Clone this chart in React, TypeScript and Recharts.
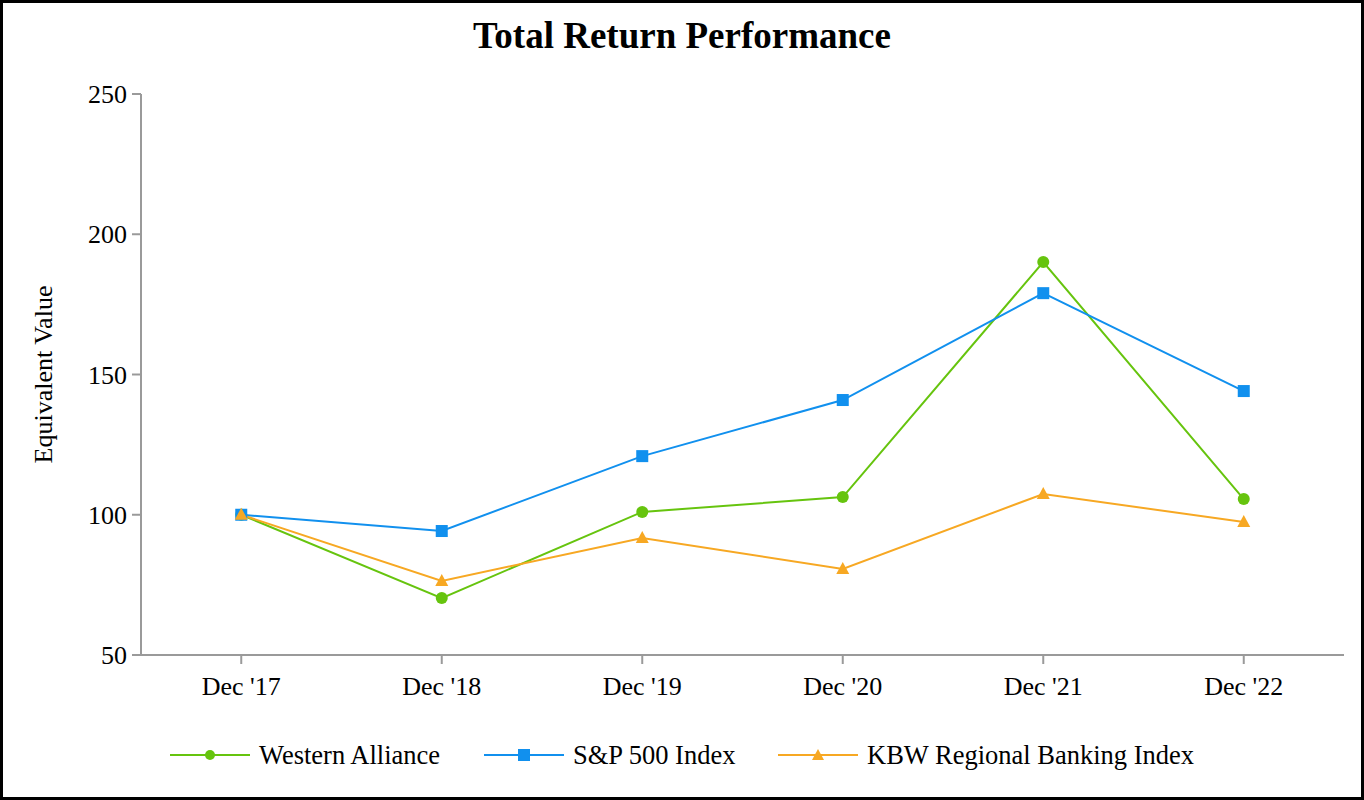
import { LineChart, Line, XAxis, YAxis } from "recharts";

const years = ["Dec '17", "Dec '18", "Dec '19", "Dec '20", "Dec '21", "Dec '22"];
const western = [100, 70.3, 101, 106.3, 190.1, 105.6];
const sp500 = [100, 94.2, 120.9, 140.9, 179, 144.1];
const kbw = [100, 76.4, 91.7, 80.7, 107.4, 97.4];
const yTicks = [50, 100, 150, 200, 250];

const GREEN = "#66c40e";
const BLUE = "#1190ee";
const ORANGE = "#f7a823";
const AXIS = "#9a9a9a";
const FONT = "'Liberation Serif', 'Times New Roman', serif";

const data = years.map((y, i) => ({
  year: y,
  western: western[i],
  sp500: sp500[i],
  kbw: kbw[i],
}));

const circleDot = (p: any) => (
  <circle key={`c-${p.index}`} cx={p.cx} cy={p.cy} r={6} fill={GREEN} />
);
const squareDot = (p: any) => (
  <rect key={`s-${p.index}`} x={p.cx - 6} y={p.cy - 6} width={12} height={12} fill={BLUE} />
);
const triDot = (p: any) => (
  <path
    key={`t-${p.index}`}
    d={`M${p.cx},${p.cy - 7} L${p.cx + 6.5},${p.cy + 5} L${p.cx - 6.5},${p.cy + 5} Z`}
    fill={ORANGE}
  />
);

const legendItems = [
  { label: "Western Alliance", color: GREEN, shape: "circle", left: 170 },
  { label: "S&P 500 Index", color: BLUE, shape: "square", left: 484 },
  { label: "KBW Regional Banking Index", color: ORANGE, shape: "triangle", left: 778 },
];

const LegendIcon = ({ color, shape }: { color: string; shape: string }) => {
  const w = 80;
  const m = w / 2;
  return (
    <svg width={w} height={20} style={{ display: "block" }}>
      <line x1={0} y1={10} x2={w} y2={10} stroke={color} strokeWidth={2} />
      {shape === "circle" && <circle cx={m} cy={10} r={5} fill={color} />}
      {shape === "square" && <rect x={m - 6} y={4} width={12} height={12} fill={color} />}
      {shape === "triangle" && <path d={`M${m},4 L${m + 6},15 L${m - 6},15 Z`} fill={color} />}
    </svg>
  );
};

const yLabel = (props: any) => {
  const vb = props.viewBox;
  const cx = 43;
  const cy = vb.y + vb.height / 2;
  return (
    <text
      x={cx}
      y={cy}
      transform={`rotate(-90, ${cx}, ${cy})`}
      textAnchor="middle"
      dominantBaseline="central"
      fontFamily={FONT}
      fontSize={26}
      fill="#000"
    >
      Equivalent Value
    </text>
  );
};

export default function App() {
  return (
    <div
      style={{
        position: "absolute",
        left: 0,
        top: 0,
        width: 1364,
        height: 800,
        background: "#fff",
        fontFamily: FONT,
      }}
    >
      <div
        style={{
          position: "absolute",
          left: 0,
          top: 14,
          width: 1364,
          height: 44,
          lineHeight: "44px",
          textAlign: "center",
          fontSize: 37,
          fontWeight: "bold",
          color: "#000",
        }}
      >
        Total Return Performance
      </div>

      <div style={{ position: "absolute", left: 0, top: 0 }}>
        <LineChart
          width={1364}
          height={800}
          data={data}
          margin={{ top: 94, right: 20, bottom: 85, left: 0 }}
        >
          <XAxis
            dataKey="year"
            scale="band"
            height={60}
            axisLine={{ stroke: AXIS, strokeWidth: 2 }}
            tickLine={{ stroke: AXIS, strokeWidth: 2 }}
            tickSize={9}
            tickMargin={13}
            tick={{ fill: "#000", fontSize: 26, fontFamily: FONT }}
          />
          <YAxis
            width={141}
            domain={[50, 250]}
            ticks={yTicks}
            interval={0}
            axisLine={{ stroke: AXIS, strokeWidth: 2 }}
            tickLine={{ stroke: AXIS, strokeWidth: 2 }}
            tickSize={9}
            tickMargin={5}
            tick={{ fill: "#000", fontSize: 26, fontFamily: FONT }}
            label={yLabel}
          />
          <Line
            dataKey="western"
            stroke={GREEN}
            strokeWidth={2}
            dot={circleDot}
            activeDot={false}
            isAnimationActive={false}
          />
          <Line
            dataKey="sp500"
            stroke={BLUE}
            strokeWidth={2}
            dot={squareDot}
            activeDot={false}
            isAnimationActive={false}
          />
          <Line
            dataKey="kbw"
            stroke={ORANGE}
            strokeWidth={2}
            dot={triDot}
            activeDot={false}
            isAnimationActive={false}
          />
        </LineChart>
      </div>

      {legendItems.map((it) => (
        <div
          key={it.label}
          style={{
            position: "absolute",
            left: it.left,
            top: 740,
            height: 30,
            display: "flex",
            alignItems: "center",
            fontSize: 26.5,
            lineHeight: "30px",
            color: "#000",
            whiteSpace: "nowrap",
          }}
        >
          <LegendIcon color={it.color} shape={it.shape} />
          <span style={{ marginLeft: 9 }}>{it.label}</span>
        </div>
      ))}

      <div
        style={{
          position: "absolute",
          left: 0,
          top: 0,
          width: 1364,
          height: 800,
          boxSizing: "border-box",
          border: "3px solid #000",
          pointerEvents: "none",
        }}
      />
    </div>
  );
}
